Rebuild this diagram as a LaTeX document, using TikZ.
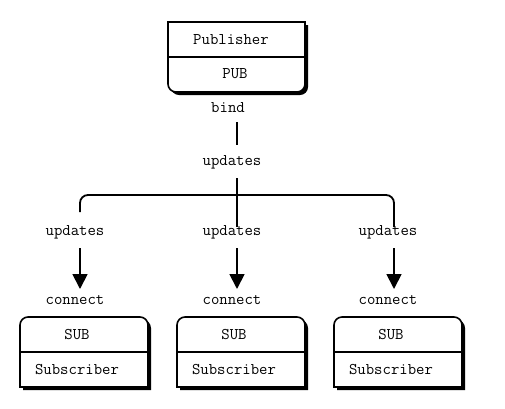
\documentclass[tikz,border=0pt]{standalone}
\usetikzlibrary{arrows.meta}
\begin{document}
\begin{tikzpicture}[x=1pt,y=-1pt,
  lbl/.style={font=\ttfamily\fontsize{16.3}{17}\selectfont, inner sep=0pt, text height=7pt, text depth=2pt, yshift=-2pt},
  boxline/.style={line width=1.6pt, fill=white},
  shadow/.style={fill=black},
  conn/.style={line width=1.8pt},
  arr/.style={line width=1.8pt, -{Triangle[length=15pt,width=15pt]}}]
\useasboundingbox (0,0) rectangle (505,408);
% Publisher box (rounded bottom corners)
\def\pubbox#1#2{(168+#1,22+#2) -- (305+#1,22+#2) -- (305+#1,84+#2) arc[start angle=0,end angle=90,radius=8] -- (176+#1,92+#2) arc[start angle=90,end angle=180,radius=8] -- cycle}
\fill[shadow] \pubbox{3}{3};
\draw[boxline] \pubbox{0}{0};
\draw[line width=1.6pt] (168,57) -- (305,57);
\node[lbl] (pubname) at (231,40) {Publisher};
\node[lbl] (pub) at (235,74) {PUB};
% Subscriber boxes (rounded top corners)
\def\subbox#1#2{(#1,387+#2) -- (#1,325+#2) arc[start angle=180,end angle=270,radius=8] -- (#1+120,317+#2) arc[start angle=270,end angle=360,radius=8] -- (#1+128,387+#2) -- cycle}
\foreach \x/\t/\n in {20/77/a,177/234/b,334/391/c}{
  \fill[shadow] \subbox{\x+3}{3};
  \draw[boxline] \subbox{\x}{0};
  \draw[line width=1.6pt] (\x,352) -- (\x+128,352);
  \node[lbl] (sub\n) at (\t,335) {SUB};
  \node[lbl] (subname\n) at (\t,370) {Subscriber};
}
% labels
\node[lbl] (bind) at (228,108) {bind};
\node[lbl] (upd) at (232,161) {updates};
\node[lbl] (upda) at (75,231) {updates};
\node[lbl] (updb) at (232,231) {updates};
\node[lbl] (updc) at (388,231) {updates};
\node[lbl] (cona) at (75,300) {connect};
\node[lbl] (conb) at (232,300) {connect};
\node[lbl] (conc) at (388,300) {connect};
% connectors
\coordinate (b1) at (237,122);
\coordinate (b2) at (237,145);
\draw[conn] (b1) -- (b2);
\coordinate (f0) at (237,178);
\coordinate (fl) at (80,212);
\coordinate (fm) at (237,227);
\coordinate (fr) at (394,227);
\draw[conn] (f0) -- (fm);
\draw[conn, rounded corners=8pt] (fl) -- (80,195) -- (394,195) -- (fr);
\foreach \x in {80,237,394}{
  \draw[arr] (\x,248) -- (\x,289);
}
\end{tikzpicture}
\end{document}
